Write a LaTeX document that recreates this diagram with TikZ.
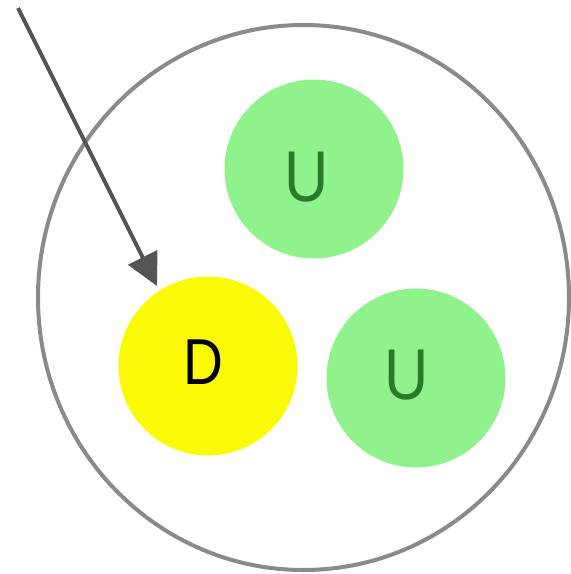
\documentclass[tikz,border=0pt]{standalone}
\usepackage{fontspec}
\setmainfont{Liberation Sans}
\usetikzlibrary{arrows.meta}
\definecolor{ringgray}{HTML}{8A8A8A}
\definecolor{arrowgray}{HTML}{555555}
\definecolor{ballyellow}{HTML}{FAFA05}
\definecolor{ballgreen}{HTML}{90F28C}
\definecolor{textgreen}{HTML}{2A7A2A}
\tikzset{
  ball/.style={circle, inner sep=0pt, minimum size=179pt},
  ring/.style={draw=ringgray, line width=4pt},
  pointer/.style={draw=arrowgray, line width=4pt, -{Triangle[length=32pt,width=32pt]}},
  letter/.style={inner sep=0pt, font=\fontsize{72}{72}\selectfont},
}
\begin{document}
\begin{tikzpicture}[x=1pt,y=-1pt]
\useasboundingbox (0,0) rectangle (571,574);
\draw[ring] (303.5,297.5) ellipse [x radius=265.5, y radius=272.5];
\node[ball, fill=ballgreen] (u1) at (314,169) {};
\node[ball, fill=ballyellow] (d) at (208,366) {};
\node[ball, fill=ballgreen] (u2) at (416,378) {};
\node[letter, text=textgreen] (u1t) at (306.5,177) {\scalebox{0.85}[1]{U}};
\node[letter, text=black, font=\fontsize{65}{65}\selectfont] (dt) at (203.5,362.5) {\scalebox{0.85}[1]{D}};
\node[letter, text=textgreen] (u2t) at (406.5,375) {\scalebox{0.85}[1]{U}};
\coordinate (s) at (18,8);
\coordinate (t) at (157,286);
\draw[pointer] (s) -- (t);
\end{tikzpicture}
\end{document}
